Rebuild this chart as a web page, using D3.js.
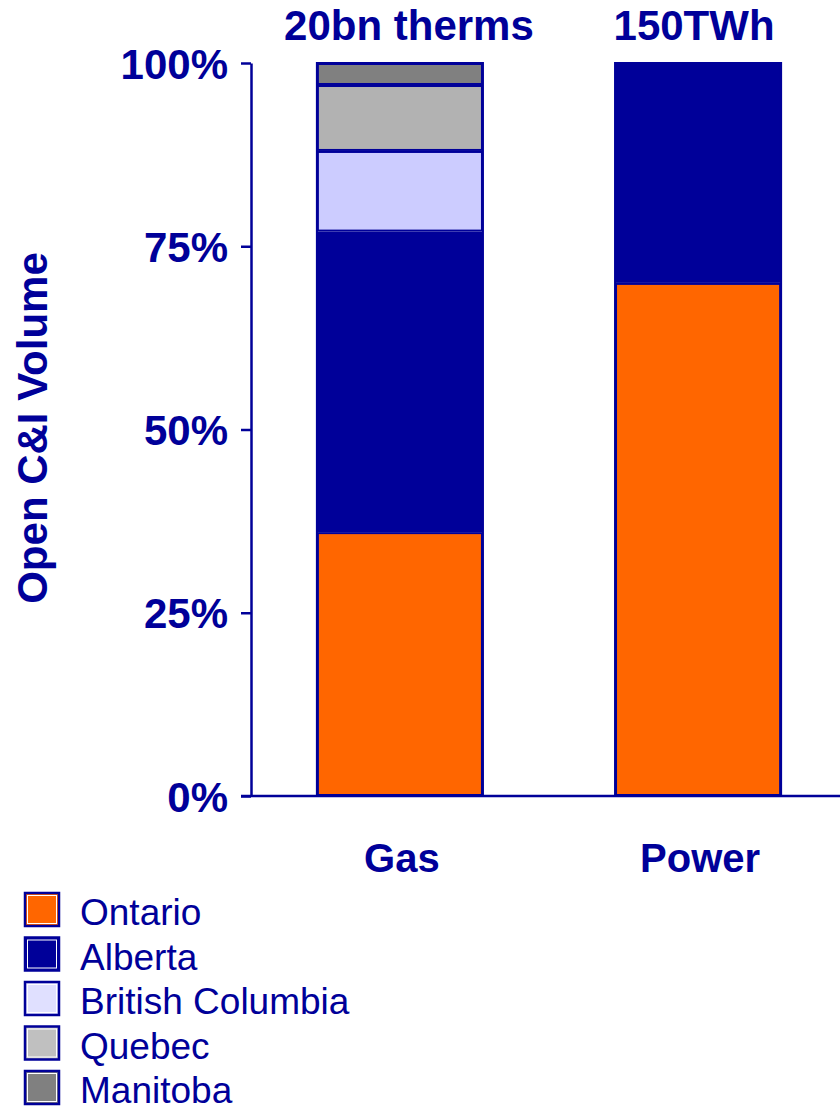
<!DOCTYPE html>
<html>
<head>
<meta charset="utf-8">
<script src="https://cdn.jsdelivr.net/npm/d3@7"></script>
<style>
  html, body { margin: 0; padding: 0; background: #fff; }
  svg { display: block; font-family: "Liberation Sans", Arial, sans-serif; }
</style>
</head>
<body>
<svg id="chart" width="840" height="1109"></svg>
<script>
// Share of open commercial & industrial volume by province
const categories = ["Gas", "Power"];
const totals = ["20bn therms", "150TWh"];
const provinces = ["Ontario", "Alberta", "British Columbia", "Quebec", "Manitoba"];
const gasShares = [36, 41, 11, 9, 3];
const powerShares = [70, 30, 0, 0, 0];
const yTicks = [0, 25, 50, 75, 100];

const navy = "#000099";
const fills = ["#FF6600", "#000099", "#CCCCFF", "#B2B2B2", "#808080"];
const legendFills = ["#FF6600", "#000099", "#E0E0FF", "#C0C0C0", "#808080"];

const svg = d3.select("#chart");

const x = d3.scaleBand()
  .domain(categories)
  .range([251, 847])
  .paddingInner(0.443)
  .paddingOuter(0.221);

const y = d3.scaleLinear().domain([0, 100]).range([796, 63]);

// stacked layout
const rows = categories.map((c, i) => {
  const vals = i === 0 ? gasShares : powerShares;
  const r = { category: c };
  provinces.forEach((p, j) => r[p] = vals[j]);
  return r;
});
const stack = d3.stack().keys(provinces)(rows);

const layers = svg.append("g").selectAll("g")
  .data(stack)
  .join("g")
  .attr("fill", (d, i) => fills[i]);

layers.selectAll("rect")
  .data(d => d.filter(s => s[1] - s[0] > 0))
  .join("rect")
  .attr("x", d => x(d.data.category) + 1)
  .attr("width", x.bandwidth() - 2)
  .attr("y", d => y(d[1]) + 1)
  .attr("height", d => y(d[0]) - y(d[1]) - 2)
  .attr("stroke", navy)
  .attr("stroke-width", 2);

// outer frame of each bar
svg.append("g").selectAll("rect")
  .data(categories)
  .join("rect")
  .attr("x", d => x(d))
  .attr("width", x.bandwidth())
  .attr("y", y(100))
  .attr("height", y(0) - y(100))
  .attr("fill", "none")
  .attr("stroke", navy)
  .attr("stroke-width", 2);

// y axis
const yAxis = svg.append("g")
  .attr("transform", "translate(251,0)")
  .call(d3.axisLeft(y).tickValues(yTicks).tickSize(10).tickSizeOuter(0).tickPadding(13)
    .tickFormat(d => d + "%"));
yAxis.select(".domain").attr("stroke", navy).attr("stroke-width", 2.5);
yAxis.selectAll(".tick line").attr("stroke", navy).attr("stroke-width", 2.5);
yAxis.selectAll(".tick text")
  .attr("fill", navy)
  .attr("font-size", 42)
  .attr("font-weight", "bold")
  .attr("font-family", "'Liberation Sans', Arial, sans-serif")
  .attr("dy", "0.36em");

// x axis baseline
svg.append("line")
  .attr("x1", 241).attr("x2", 840)
  .attr("y1", y(0)).attr("y2", y(0))
  .attr("stroke", navy).attr("stroke-width", 2.5);

// category labels
svg.append("g").selectAll("text")
  .data(categories)
  .join("text")
  .attr("x", d => x(d) + x.bandwidth() / 2 + 2)
  .attr("y", 872)
  .attr("text-anchor", "middle")
  .attr("fill", navy)
  .attr("font-size", 40)
  .attr("font-weight", "bold")
  .text(d => d);

// totals above bars
svg.append("g").selectAll("text")
  .data(totals)
  .join("text")
  .attr("x", (d, i) => x(categories[i]) + x.bandwidth() / 2 + (i === 0 ? 9 : -4))
  .attr("y", 40)
  .attr("text-anchor", "middle")
  .attr("fill", navy)
  .attr("font-size", 42)
  .attr("font-weight", "bold")
  .text(d => d);

// y axis title
svg.append("text")
  .attr("transform", "translate(47,428) rotate(-90)")
  .attr("text-anchor", "middle")
  .attr("fill", navy)
  .attr("font-size", 42)
  .attr("font-weight", "bold")
  .text("Open C&I Volume");

// legend
const legend = svg.append("g").selectAll("g")
  .data(provinces)
  .join("g")
  .attr("transform", (d, i) => `translate(0,${892 + i * 44.5})`);

legend.append("rect")
  .attr("x", 25).attr("y", 1)
  .attr("width", 34).attr("height", 33)
  .attr("fill", (d, i) => legendFills[i])
  .attr("stroke", navy).attr("stroke-width", 2.5);
legend.append("rect")
  .attr("x", 27.5).attr("y", 3.5)
  .attr("width", 29).attr("height", 28)
  .attr("fill", "none")
  .attr("stroke", "#fff").attr("stroke-width", 1);

legend.append("text")
  .attr("x", 80).attr("y", 33)
  .attr("fill", navy)
  .attr("font-size", 37)
  .text(d => d);
</script>
</body>
</html>
